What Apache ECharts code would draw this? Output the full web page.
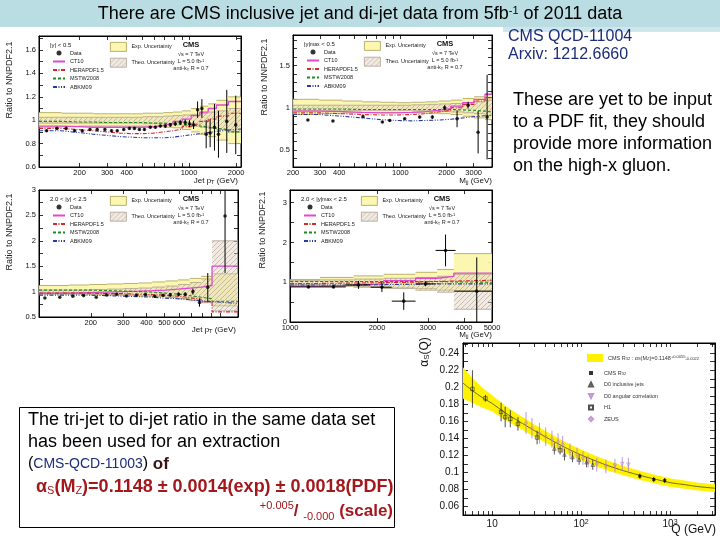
<!DOCTYPE html>
<html>
<head>
<meta charset="utf-8">
<title>CMS jets</title>
<script src="https://cdn.jsdelivr.net/npm/echarts@6/dist/echarts.min.js"></script>
<style>
html,body{margin:0;padding:0;background:#ffffff;}
#chart{width:720px;height:540px;}
</style>
</head>
<body>
<div id="chart"></div>
<script>
// ================= DATA =================
// Panel 1: inclusive jets |y|<0.5, ratio to NNPDF2.1
const p1Pt    = [123,143,164,186,208,233,259,290,320,348,383,416,448,482,519,566,610,656,706,760,817,880,946,1008,1069,1135,1209,1288,1365,1455,1543,1744,1990];
const p1Ratio = [0.91,0.93,0.93,0.91,0.91,0.92,0.92,0.92,0.91,0.91,0.92,0.93,0.93,0.92,0.92,0.94,0.94,0.95,0.95,0.96,0.97,0.98,0.98,0.97,0.96,1.09,1.10,0.88,0.89,0.94,0.88,0.99,0.96];
const p1Err   = [0.01,0.01,0.01,0.01,0.01,0.01,0.01,0.01,0.01,0.01,0.01,0.01,0.01,0.01,0.01,0.01,0.012,0.012,0.015,0.015,0.02,0.02,0.025,0.03,0.035,0.07,0.08,0.12,0.12,0.2,0.2,0.27,0.25];
const p1Edges = [110,153,196,245,300,362,430,507,592,686,790,905,1032,1172,1327,1497,1784,2150];
const p1Ct10  = [0.95,0.945,0.94,0.94,0.94,0.94,0.94,0.945,0.955,0.97,0.99,1.01,1.04,1.07,1.10,1.13,1.16];
const p1Hera  = [0.93,0.92,0.91,0.90,0.89,0.885,0.885,0.89,0.90,0.91,0.925,0.945,0.965,0.99,1.01,1.035,1.06];
const p1Mstw  = [0.99,0.985,0.985,0.98,0.98,0.98,0.98,0.975,0.975,0.97,0.965,0.96,0.95,0.94,0.93,0.92,0.90];
const p1Abkm  = [0.91,0.895,0.88,0.87,0.86,0.855,0.85,0.85,0.85,0.855,0.865,0.875,0.885,0.895,0.905,0.915,0.925];
const p1ExpLo = [0.94,0.945,0.95,0.95,0.95,0.95,0.95,0.95,0.945,0.94,0.935,0.92,0.90,0.88,0.86,0.83,0.80];
const p1ExpHi = [1.065,1.06,1.06,1.055,1.055,1.055,1.055,1.06,1.06,1.065,1.07,1.08,1.10,1.12,1.14,1.17,1.20];
const p1ThLo  = [0.975,0.975,0.975,0.975,0.975,0.975,0.975,0.97,0.97,0.965,0.96,0.955,0.95,0.94,0.93,0.92,0.90];
const p1ThHi  = [1.025,1.025,1.025,1.025,1.025,1.025,1.025,1.03,1.03,1.035,1.04,1.045,1.05,1.06,1.07,1.08,1.10];
const p1XLabels = [200,300,400,1000,2000];
const p1XTicks  = [200,300,400,500,600,700,800,900,1000,2000];
const p1YLabels = [0.6,0.8,1,1.2,1.4,1.6];
const p1YTicks  = [0.6,0.7,0.8,0.9,1,1.1,1.2,1.3,1.4,1.5,1.6,1.7];

// Panel 2: dijet mass |y|max<0.5
const p2M     = [250,364,571,764,853,1067,1336,1616,1944,2340,2760,3208,3670];
const p2Ratio = [0.855,0.844,0.895,0.832,0.85,0.87,0.89,0.89,1.0,0.87,1.03,0.71,0.89];
const p2Err   = [0.01,0.01,0.012,0.012,0.012,0.015,0.015,0.02,0.03,0.1,0.04,0.25,0.5];
const p2Edges = [200,296,419,565,740,944,1181,1455,1770,2132,2546,3019,3558,3950];
const p2Ct10  = [0.96,0.955,0.945,0.94,0.94,0.945,0.955,0.97,0.99,1.02,1.06,1.10,1.16];
const p2Hera  = [0.94,0.93,0.92,0.915,0.915,0.92,0.93,0.95,0.97,1.0,1.04,1.08,1.12];
const p2Mstw  = [0.985,0.985,0.98,0.98,0.98,0.98,0.98,0.98,0.98,0.975,0.97,0.96,0.95];
const p2Abkm  = [0.92,0.90,0.88,0.86,0.85,0.845,0.85,0.855,0.865,0.88,0.895,0.905,0.91];
const p2ExpLo = [0.92,0.93,0.94,0.945,0.945,0.945,0.94,0.935,0.93,0.92,0.90,0.88,0.86];
const p2ExpHi = [1.10,1.09,1.08,1.07,1.065,1.06,1.065,1.07,1.08,1.09,1.11,1.13,1.16];
const p2ThLo  = [0.97,0.97,0.97,0.97,0.97,0.97,0.965,0.96,0.955,0.95,0.94,0.93,0.91];
const p2ThHi  = [1.03,1.03,1.03,1.03,1.03,1.03,1.035,1.04,1.045,1.05,1.06,1.07,1.09];
const p2XLabels = [200,300,400,1000,2000,3000];
const p2XTicks  = [300,400,500,600,700,800,900,1000,2000,3000];
const p2YLabels = [0.5,1,1.5];
const p2YTicks  = [0.4,0.5,0.6,0.7,0.8,0.9,1,1.1,1.2,1.3,1.4,1.5,1.6,1.7,1.8];

// Panel 3: inclusive jets 2.0<|y|<2.5
const p3Pt    = [113,136,160,183,214,244,276,312,353,395,443,492,538,597,648,713,774,858,1064];
const p3Ratio = [0.875,0.888,0.908,0.921,0.888,0.934,0.947,0.914,0.928,0.941,0.908,0.928,0.934,0.947,0.947,1.0,0.783,1.086,2.487];
const p3Err   = [0.01,0.01,0.01,0.01,0.01,0.012,0.012,0.015,0.015,0.02,0.02,0.025,0.03,0.035,0.04,0.06,0.08,0.28,1.12];
const p3Edges = [105,153,196,245,300,362,430,507,592,686,790,905,1250];
const p3Ct10  = [0.97,0.98,0.99,1.0,1.01,1.02,1.03,1.05,1.07,1.09,1.12,1.5];
const p3Hera  = [0.97,0.97,0.96,0.96,0.95,0.94,0.93,0.91,0.88,0.85,0.8,0.6];
const p3Mstw  = [1.03,1.03,1.02,1.01,1.0,0.99,0.97,0.95,0.92,0.89,0.86,0.81];
const p3Abkm  = [0.93,0.93,0.92,0.91,0.9,0.89,0.87,0.86,0.84,0.82,0.8,0.77];
const p3ExpLo = [0.95,0.95,0.94,0.93,0.92,0.91,0.9,0.88,0.86,0.83,0.8,0.72];
const p3ExpHi = [1.12,1.13,1.14,1.15,1.16,1.17,1.19,1.21,1.23,1.26,1.3,1.35];
const p3ThLo  = [0.97,0.97,0.96,0.95,0.94,0.93,0.91,0.89,0.86,0.82,0.78,0.62];
const p3ThHi  = [1.03,1.03,1.04,1.05,1.06,1.07,1.09,1.11,1.14,1.18,1.25,2.0];
const p3XLabels = [200,300,400,500,600];
const p3XTicks  = [200,300,400,500,600,700,800,900,1000];
const p3YLabels = [0.5,1,1.5,2,2.5,3];
const p3YTicks  = [0.5,0.75,1,1.25,1.5,1.75,2,2.25,2.5,2.75,3];

// Panel 4: dijet mass 2.0<|y|max<2.5
const p4M     = [1158,1414,1726,2080,2475,2944,3453,4428];
const p4Ratio = [0.883,0.883,0.933,0.875,0.525,0.958,1.8,0.775];
const p4Err   = [0.03,0.03,0.1,0.12,0.22,0.06,0.4,0.85];
const p4MLo   = [1000,1270,1560,1900,2250,2720,3190,3700];
const p4MHi   = [1270,1560,1900,2250,2720,3190,3740,5000];
const p4Edges = [1000,1270,1660,2110,2720,3230,3690,5000];
const p4Ct10  = [0.9,0.92,0.96,1.04,1.1,1.15,1.23];
const p4Hera  = [0.97,0.98,0.99,1.0,1.02,1.03,1.05];
const p4Mstw  = [1.02,1.02,1.02,1.02,1.02,1.01,1.0];
const p4Abkm  = [0.93,0.93,0.94,0.95,0.96,0.96,0.96];
const p4ExpLo = [0.93,0.9,0.88,0.86,0.84,0.8,0.78];
const p4ExpHi = [1.07,1.12,1.16,1.2,1.25,1.32,1.72];
const p4ThLo  = [0.95,0.92,0.88,0.84,0.8,0.75,0.32];
const p4ThHi  = [1.04,1.06,1.08,1.1,1.12,1.15,1.2];
const p4XLabels = [1000,2000,3000,4000,5000];
const p4XTicks  = [2000,3000,4000];
const p4YLabels = [0,1,2,3];
const p4YTicks  = [0,0.5,1,1.5,2,2.5,3];

// alpha_s(Q) panel
const alphaQ   = [4.7,6,8,10,14,20,30,50,70,100,150,200,300,500,700,1000,1500,2000,3200];
const alphaLo  = [0.187,0.182,0.176,0.172,0.162,0.1528,0.1423,0.1298,0.122,0.1147,0.1075,0.1027,0.097,0.0907,0.0872,0.0835,0.0812,0.0795,0.0775];
const alphaHi  = [0.223,0.210,0.198,0.190,0.178,0.1672,0.1557,0.1422,0.134,0.1263,0.1185,0.1133,0.107,0.1003,0.0964,0.0925,0.0898,0.0875,0.0855];
const alphaMid = [0.205,0.196,0.187,0.181,0.170,0.160,0.149,0.136,0.128,0.1205,0.113,0.108,0.102,0.0955,0.0918,0.088,0.0855,0.0835,0.0815];
const h1Q   = [6,8.4,12.6,14,16,19.5,32,58];
const h1A   = [0.198,0.187,0.171,0.165,0.163,0.157,0.141,0.126];
const h1E   = [0.022,0.004,0.011,0.012,0.01,0.008,0.008,0.005];
const zeusQ = [24,28,34,40,47,55,62,75,90,105,120];
const zeusA = [0.158,0.152,0.146,0.142,0.139,0.136,0.133,0.125,0.121,0.117,0.113];
const zeusE = [0.013,0.012,0.012,0.011,0.01,0.01,0.01,0.009,0.008,0.008,0.007];
const d0jQ  = [50,65,80,95,115,135];
const d0jA  = [0.128,0.121,0.118,0.115,0.112,0.109];
const d0jE  = [0.007,0.007,0.006,0.006,0.006,0.006];
const d0aQ  = [150,190,240,290,340];
const d0aA  = [0.109,0.107,0.108,0.110,0.109];
const d0aE  = [0.008,0.008,0.008,0.008,0.008];
const cmsQ  = [457,656,871];
const cmsA  = [0.0956,0.0917,0.0905];
const cmsE  = [0.003,0.003,0.003];
const aXLabels = [10,100,1000];
const aXTicks  = [5,6,7,8,9,10,20,30,40,50,60,70,80,90,100,200,300,400,500,600,700,800,900,1000,2000,3000];
const aYLabels = [0.06,0.08,0.1,0.12,0.14,0.16,0.18,0.2,0.22,0.24];
const aYTicks  = [0.05,0.06,0.07,0.08,0.09,0.1,0.11,0.12,0.13,0.14,0.15,0.16,0.17,0.18,0.19,0.2,0.21,0.22,0.23,0.24,0.25];

// ================= LAYOUT / STYLE =================
const FONT = '"Liberation Sans", Arial, Helvetica, sans-serif';
const lg = v => Math.log10(v);
const GRIDS = [
  {left:39,  top:36,  width:202, height:131},
  {left:293, top:35,  width:199, height:132},
  {left:39,  top:190, width:199, height:127},
  {left:290, top:190, width:202, height:132},
  {left:463, top:343, width:252, height:172}
];

function hatchCanvas(bg, fg) {
  const c = document.createElement('canvas');
  c.width = 5; c.height = 5;
  const x = c.getContext('2d');
  x.fillStyle = bg; x.fillRect(0,0,5,5);
  x.strokeStyle = fg; x.lineWidth = 0.8;
  x.beginPath(); x.moveTo(-1,6); x.lineTo(6,-1); x.stroke();
  return c;
}
const THEO_IMG = hatchCanvas('rgba(225,210,195,0.45)', 'rgba(150,130,115,0.55)');
const THEO_FILL = {image: THEO_IMG, repeat: 'repeat'};
const EXP_FILL = 'rgba(251,246,170,0.92)';
const EXP_STROKE = '#a9a050';

const option = {
  animation: false,
  backgroundColor: '#ffffff',
  grid: GRIDS.map(g => ({left:g.left, top:g.top, width:g.width, height:g.height, show:true, borderColor:'#000', borderWidth:1, backgroundColor:'transparent'})),
  xAxis: [], yAxis: [], series: [], legend: [], graphic: []
};

const fmtLog = v => String(Math.round(Math.pow(10, v)));
const fmtNum = v => String(+(+v).toFixed(3));

function addAxes(gi, xc, yc) {
  const line = {show:true, onZero:false, lineStyle:{color:'#000', width:1}};
  const tickX = {show:true, inside:true, length:xc.tickLen || 4, customValues:xc.ticks, lineStyle:{color:'#000', width:0.8}};
  const tickY = {show:true, inside:true, length:yc.tickLen || 4, customValues:yc.ticks, lineStyle:{color:'#000', width:0.8}};
  option.xAxis.push({
    type:'value', gridIndex:gi, position:'bottom', min:xc.min, max:xc.max,
    splitLine:{show:false}, axisLine:line, axisTick:tickX,
    axisLabel:{show:true, customValues:xc.labels, formatter:xc.fmt, fontSize:xc.fs, color:'#111', fontFamily:FONT, margin:xc.margin || 2, rich:xc.rich}
  });
  option.xAxis.push({
    type:'value', gridIndex:gi, position:'top', min:xc.min, max:xc.max,
    splitLine:{show:false}, axisLine:line, axisTick:tickX, axisLabel:{show:false}
  });
  option.yAxis.push({
    type:'value', gridIndex:gi, position:'left', min:yc.min, max:yc.max,
    splitLine:{show:false}, axisLine:line, axisTick:tickY,
    axisLabel:{show:true, customValues:yc.labels, formatter:fmtNum, fontSize:yc.fs, color:'#111', fontFamily:FONT, margin:yc.margin || 3}
  });
  option.yAxis.push({
    type:'value', gridIndex:gi, position:'right', min:yc.min, max:yc.max,
    splitLine:{show:false}, axisLine:line, axisTick:tickY, axisLabel:{show:false}
  });
}

function bandSeries(gi, name, edges, lo, hi, fill, stroke, z) {
  const data = lo.map((l, k) => [lg(edges[k]), lg(edges[k+1]), l, hi[k]]);
  return {
    type:'custom', name:name, xAxisIndex:2*gi, yAxisIndex:2*gi, z:z, clip:true, silent:true,
    data:data, encode:{x:[0,1], y:[2,3]},
    renderItem:(p, api) => {
      const a = api.coord([api.value(0), api.value(3)]);
      const b = api.coord([api.value(1), api.value(2)]);
      return {type:'group', children:[
        {type:'rect', shape:{x:a[0], y:a[1], width:b[0]-a[0], height:b[1]-a[1]}, style:{fill:fill}},
        {type:'line', shape:{x1:a[0], y1:a[1], x2:b[0], y2:a[1]}, style:{stroke:stroke, lineWidth:0.8}},
        {type:'line', shape:{x1:a[0], y1:b[1], x2:b[0], y2:b[1]}, style:{stroke:stroke, lineWidth:0.8}}
      ]};
    }
  };
}

function stepSeries(gi, name, edges, vals, color, type, width) {
  const data = edges.map((e, k) => [lg(e), vals[Math.min(k, vals.length-1)]]);
  return {
    type:'line', name:name, xAxisIndex:2*gi, yAxisIndex:2*gi, step:'end', symbol:'none', z:3, silent:true,
    data:data, lineStyle:{color:color, type:type, width:width}, itemStyle:{color:color}
  };
}

function errSeries(gi, xs, ys, es, color, xlo, xhi, lw, z) {
  const data = xs.map((x, k) => [lg(x), ys[k], es[k], lg(xlo ? xlo[k] : x), lg(xhi ? xhi[k] : x)]);
  return {
    type:'custom', xAxisIndex:2*gi, yAxisIndex:2*gi, clip:true, silent:true, z:z || 4,
    data:data, encode:{x:0, y:1},
    renderItem:(p, api) => {
      const x = api.value(0), y = api.value(1), e = api.value(2);
      const t = api.coord([x, y + e]), b = api.coord([x, y - e]);
      const l = api.coord([api.value(3), y]), r = api.coord([api.value(4), y]);
      const ch = [{type:'line', shape:{x1:t[0], y1:t[1], x2:b[0], y2:b[1]}, style:{stroke:color, lineWidth:lw || 1}}];
      if (r[0] - l[0] > 0.5) ch.push({type:'line', shape:{x1:l[0], y1:l[1], x2:r[0], y2:r[1]}, style:{stroke:color, lineWidth:lw || 1}});
      return {type:'group', children:ch};
    }
  };
}

const PANELS = [
  {x:{min:lg(110), max:lg(2150), labels:p1XLabels, ticks:p1XTicks},
   y:{min:0.6, max:1.72, labels:p1YLabels, ticks:p1YTicks},
   pt:p1Pt, r:p1Ratio, e:p1Err, edges:p1Edges, ct:p1Ct10, he:p1Hera, ms:p1Mstw, ab:p1Abkm,
   eLo:p1ExpLo, eHi:p1ExpHi, tLo:p1ThLo, tHi:p1ThHi, region:'|y| < 0.5', yName:[10,80],
   xName:'Jet p{s|T} (GeV)', xNamePos:[238,181]},
  {x:{min:lg(200), max:lg(3950), labels:p2XLabels, ticks:p2XTicks},
   y:{min:0.3, max:1.86, labels:p2YLabels, ticks:p2YTicks},
   pt:p2M, r:p2Ratio, e:p2Err, edges:p2Edges, ct:p2Ct10, he:p2Hera, ms:p2Mstw, ab:p2Abkm,
   eLo:p2ExpLo, eHi:p2ExpHi, tLo:p2ThLo, tHi:p2ThHi, region:'|y|{s|max} < 0.5', yName:[265,77],
   xName:'M{s|jj} (GeV)', xNamePos:[492,181]},
  {x:{min:lg(105), max:lg(1250), labels:p3XLabels, ticks:p3XTicks},
   y:{min:0.5, max:3.0, labels:p3YLabels, ticks:p3YTicks},
   pt:p3Pt, r:p3Ratio, e:p3Err, edges:p3Edges, ct:p3Ct10, he:p3Hera, ms:p3Mstw, ab:p3Abkm,
   eLo:p3ExpLo, eHi:p3ExpHi, tLo:p3ThLo, tHi:p3ThHi, region:'2.0 < |y| < 2.5', yName:[10,232],
   xName:'Jet p{s|T} (GeV)', xNamePos:[236,330]},
  {x:{min:lg(1000), max:lg(5000), labels:p4XLabels, ticks:p4XTicks},
   y:{min:0, max:3.32, labels:p4YLabels, ticks:p4YTicks},
   pt:p4M, r:p4Ratio, e:p4Err, xlo:p4MLo, xhi:p4MHi, edges:p4Edges, ct:p4Ct10, he:p4Hera, ms:p4Mstw, ab:p4Abkm,
   eLo:p4ExpLo, eHi:p4ExpHi, tLo:p4ThLo, tHi:p4ThHi, region:'2.0 < |y|{s|max} < 2.5', yName:[263,230],
   xName:'M{s|jj} (GeV)', xNamePos:[492,335]}
];

const subRich = {s:{fontSize:5, fontFamily:FONT, fill:'#111', verticalAlign:'bottom'}};
const G = option.graphic;
const noSym = {opacity:0};

PANELS.forEach((P, gi) => {
  const g = GRIDS[gi];
  addAxes(gi,
    Object.assign({}, P.x, {labels:P.x.labels.map(lg), ticks:P.x.ticks.map(lg), fmt:fmtLog, fs:7.5}),
    Object.assign({}, P.y, {fs:7.5}));
  option.series.push(bandSeries(gi, 'Exp. Uncertainty', P.edges, P.eLo, P.eHi, EXP_FILL, EXP_STROKE, 1));
  option.series.push(bandSeries(gi, 'Theo. Uncertainty', P.edges, P.tLo, P.tHi, THEO_FILL, '#b0a090', 2));
  option.series.push(stepSeries(gi, 'CT10', P.edges, P.ct, '#e048d0', 'solid', 1.3));
  option.series.push(stepSeries(gi, 'HERAPDF1.5', P.edges, P.he, '#d42a2a', [4,1.5,1,1.5], 1.1));
  option.series.push(stepSeries(gi, 'MSTW2008', P.edges, P.ms, '#1f8a1f', [3,2], 1.1));
  option.series.push(stepSeries(gi, 'ABKM09', P.edges, P.ab, '#2a3aa0', [4,1.5,1,1.5,1,1.5], 1.1));
  option.series.push(errSeries(gi, P.pt, P.r, P.e, '#000', P.xlo, P.xhi, 1, 4));
  option.series.push({
    type:'scatter', name:'Data', xAxisIndex:2*gi, yAxisIndex:2*gi, z:5, silent:true,
    symbol:'circle', symbolSize:3.6, itemStyle:{color:'#000'},
    data:P.pt.map((x, k) => [lg(x), P.r[k]])
  });
  // legends
  option.legend.push({
    left:g.left + 13, top:g.top + 14, orient:'vertical', itemWidth:12, itemHeight:5, itemGap:2.5,
    selectedMode:false, padding:0,
    textStyle:{fontSize:5.5, color:'#222', fontFamily:FONT},
    data:['Data',
      {name:'CT10', itemStyle:noSym}, {name:'HERAPDF1.5', itemStyle:noSym},
      {name:'MSTW2008', itemStyle:noSym}, {name:'ABKM09', itemStyle:noSym}]
  });
  option.legend.push({
    left:g.left + 71, top:g.top + 6, orient:'vertical', itemWidth:16, itemHeight:9, itemGap:6,
    selectedMode:false, padding:0,
    textStyle:{fontSize:5.5, color:'#222', fontFamily:FONT},
    data:[
      {name:'Exp. Uncertainty', icon:'rect', itemStyle:{color:EXP_FILL, borderColor:EXP_STROKE, borderWidth:0.8}},
      {name:'Theo. Uncertainty', icon:'rect', itemStyle:{color:THEO_FILL, borderColor:'#b0a090', borderWidth:0.8}}
    ]
  });
  // in-panel texts
  G.push({type:'text', x:g.left + 11, y:g.top + 9, z:10,
    style:{text:P.region, fontSize:6, fontFamily:FONT, fill:'#111', align:'left', verticalAlign:'middle', rich:subRich}});
  const cx = g.left + 152;
  G.push({type:'text', x:cx, y:g.top + 9, z:10,
    style:{text:'CMS', fontSize:7.5, fontWeight:'bold', fontFamily:FONT, fill:'#111', align:'center', verticalAlign:'middle'}});
  G.push({type:'text', x:cx, y:g.top + 18.5, z:10,
    style:{text:'\u221As = 7 TeV', fontSize:5.5, fontFamily:FONT, fill:'#222', align:'center', verticalAlign:'middle'}});
  G.push({type:'text', x:cx, y:g.top + 25.5, z:10,
    style:{text:'L = 5.0 fb{u|-1}', fontSize:5.5, fontFamily:FONT, fill:'#222', align:'center', verticalAlign:'middle',
      rich:{u:{fontSize:4, fontFamily:FONT, fill:'#222', verticalAlign:'top'}}}});
  G.push({type:'text', x:cx, y:g.top + 32.5, z:10,
    style:{text:'anti-k{s|T} R = 0.7', fontSize:5.5, fontFamily:FONT, fill:'#222', align:'center', verticalAlign:'middle',
      rich:{s:{fontSize:4, fontFamily:FONT, fill:'#222', verticalAlign:'bottom'}}}});
  G.push({type:'text', x:P.yName[0], y:P.yName[1], rotation:Math.PI/2, z:10,
    style:{text:'Ratio to NNPDF2.1', fontSize:9, fontFamily:FONT, fill:'#222', align:'center', verticalAlign:'middle'}});
  G.push({type:'text', x:P.xNamePos[0], y:P.xNamePos[1], z:10,
    style:{text:P.xName, fontSize:8, fontFamily:FONT, fill:'#111', align:'right', verticalAlign:'middle',
      rich:{s:{fontSize:5.5, fontFamily:FONT, fill:'#111', verticalAlign:'bottom'}}}});
});

// ---- alpha_s panel (grid 4) ----
addAxes(4,
  {min:lg(4.7), max:lg(3200), labels:aXLabels.map(lg), ticks:aXTicks.map(lg),
   fmt:v => { const n = Math.round(v); return n === 1 ? '10' : '10{p|' + n + '}'; },
   rich:{p:{fontSize:7, fontFamily:FONT, color:'#111', verticalAlign:'top', lineHeight:10}},
   fs:10, margin:4, tickLen:4},
  {min:0.05, max:0.252, labels:aYLabels, ticks:aYTicks, fs:10, margin:4, tickLen:5});

const bandQuads = alphaQ.slice(0, -1).map((q, k) =>
  [lg(q), lg(alphaQ[k+1]), alphaLo[k], alphaHi[k], alphaLo[k+1], alphaHi[k+1]]);
option.series.push({
  type:'custom', name:'CMS R32 fit', xAxisIndex:8, yAxisIndex:8, z:1, clip:true, silent:true,
  data:bandQuads, encode:{x:[0,1], y:[2,3]}, itemStyle:{color:'#fff200'},
  renderItem:(p, api) => {
    const x0 = api.value(0), x1 = api.value(1);
    const pts = [api.coord([x0, api.value(3)]), api.coord([x1, api.value(5)]), api.coord([x1, api.value(4)]), api.coord([x0, api.value(2)])];
    return {type:'polygon', shape:{points:pts}, style:{fill:'#fff200', stroke:'#fff200', lineWidth:0.8}};
  }
});
option.series.push({
  type:'line', name:'alphaMid', xAxisIndex:8, yAxisIndex:8, symbol:'none', smooth:0.3, silent:true, z:2,
  lineStyle:{color:'#333', width:0.7}, data:alphaQ.map((q, k) => [lg(q), alphaMid[k]])
});
const PURPLE = '#b27cc8';
const SYM_SQ = 'path://M0,0L1,0L1,1L0,1Z';
const SYM_UP = 'path://M0.5,0L1,1L0,1Z';
const SYM_DN = 'path://M0,0L1,0L0.5,1Z';
const SYM_DM = 'path://M0.5,0L1,0.5L0.5,1L0,0.5Z';
[
  ['ZEUS', zeusQ, zeusA, zeusE, PURPLE, SYM_DM, 3.5, false],
  ['D0 angular correlation', d0aQ, d0aA, d0aE, PURPLE, SYM_DN, 3.5, false],
  ['D0 inclusive jets', d0jQ, d0jA, d0jE, '#333', SYM_UP, 3.5, false],
  ['H1', h1Q, h1A, h1E, '#222', SYM_SQ, 3.5, false],
  ['CMS R32', cmsQ, cmsA, cmsE, '#000', SYM_SQ, 3, true]
].forEach(d => {
  option.series.push(errSeries(4, d[1], d[2], d[3], d[4], null, null, 0.8, 3));
  option.series.push({
    type:'scatter', name:d[0], xAxisIndex:8, yAxisIndex:8, z:4, silent:true,
    symbol:d[5], symbolSize:d[6], symbolKeepAspect:true,
    itemStyle: d[7] ? {color:d[4]} : {color:'rgba(255,255,255,0)', borderColor:d[4], borderWidth:0.7},
    data:d[1].map((q, k) => [lg(q), d[2][k]])
  });
});
option.legend.push({
  left:587, top:354, orient:'vertical', itemWidth:16, itemHeight:8, selectedMode:false, padding:0,
  textStyle:{fontSize:5.5, color:'#333', fontFamily:FONT,
    rich:{s:{fontSize:4, color:'#333', fontFamily:FONT, verticalAlign:'bottom'}, u:{fontSize:4, color:'#333', fontFamily:FONT, verticalAlign:'top'}}},
  formatter:() => 'CMS R{s|32} : \u03b1{s|S}(M{s|Z})=0.1148{u|+0.0055}{s|-0.0022}',
  data:[{name:'CMS R32 fit', icon:'rect', itemStyle:{color:'#fff200', borderWidth:0}}]
});
option.legend.push({
  left:588, top:370, orient:'vertical', itemWidth:16, itemHeight:4, itemGap:5.5, selectedMode:false, padding:0,
  textStyle:{fontSize:5.5, color:'#333', fontFamily:FONT, rich:{s:{fontSize:4, color:'#333', fontFamily:FONT, verticalAlign:'bottom'}}},
  formatter:n => n === 'CMS R32' ? 'CMS R{s|32}' : n,
  data:['CMS R32','D0 inclusive jets','D0 angular correlation','H1','ZEUS']
});
G.push({type:'text', x:425, y:352, rotation:Math.PI/2, z:10,
  style:{text:'\u03b1{s|S}(Q)', fontSize:12, fontFamily:FONT, fill:'#111', align:'center', verticalAlign:'middle',
    rich:{s:{fontSize:8, fontFamily:FONT, fill:'#111', verticalAlign:'bottom'}}}});
G.push({type:'text', x:716, y:530, z:10,
  style:{text:'Q (GeV)', fontSize:12, fontFamily:FONT, fill:'#111', align:'right', verticalAlign:'middle'}});

// ---- slide decorations & texts ----
G.unshift({type:'rect', shape:{x:503, y:27, width:217, height:5}, style:{fill:'#cfe7eb'}, z:-1});
G.unshift({type:'rect', shape:{x:0, y:0, width:720, height:27}, style:{fill:'#b9dde3'}, z:-1});
G.push({type:'text', x:360, y:14, z:10,
  style:{text:'There are CMS inclusive jet and di-jet data from 5fb{u|-1} of 2011 data', fontSize:18, fontFamily:FONT, fill:'#000',
    align:'center', verticalAlign:'middle', rich:{u:{fontSize:11, fontFamily:FONT, fill:'#000', verticalAlign:'top'}}}});
G.push({type:'text', x:508, y:37, z:10,
  style:{text:'CMS QCD-11004', fontSize:16, fontFamily:FONT, fill:'#1c2b7a', align:'left', verticalAlign:'middle'}});
G.push({type:'text', x:508, y:55, z:10,
  style:{text:'Arxiv: 1212.6660', fontSize:16, fontFamily:FONT, fill:'#1c2b7a', align:'left', verticalAlign:'middle'}});
['These are yet to be input','to a PDF fit, they should','provide more information','on the high-x gluon.'].forEach((t, k) => {
  G.push({type:'text', x:513, y:100 + 22*k, z:10,
    style:{text:t, fontSize:18, fontFamily:FONT, fill:'#000', align:'left', verticalAlign:'middle'}});
});
G.push({type:'rect', shape:{x:19.5, y:407.5, width:375, height:120}, style:{fill:'none', stroke:'#000', lineWidth:1}, z:10});
G.push({type:'text', x:28, y:420, z:10,
  style:{text:'The tri-jet to di-jet ratio in the same data set', fontSize:18, fontFamily:FONT, fill:'#000', align:'left', verticalAlign:'middle'}});
G.push({type:'text', x:28, y:442, z:10,
  style:{text:'has been used for an extraction', fontSize:18, fontFamily:FONT, fill:'#000', align:'left', verticalAlign:'middle'}});
G.push({type:'text', x:28, y:464, z:10,
  style:{text:'{p|(}{c|CMS-QCD-11003}{p|)}{o| of}', fontSize:18, fontFamily:FONT, fill:'#000', align:'left', verticalAlign:'middle',
    rich:{p:{fontSize:16, fontFamily:FONT, fill:'#000'}, c:{fontSize:14, fontFamily:FONT, fill:'#1c2b7a'}, o:{fontSize:17, fontWeight:'bold', fontFamily:FONT, fill:'#3a1212'}}}});
const RED = '#a3181c';
G.push({type:'text', x:36, y:487, z:10,
  style:{text:'{r|\u03b1}{s|S}{r|(M}{s|Z}{r|)=0.1148 \u00b1 0.0014(exp) \u00b1 0.0018(PDF)}', fontSize:18, fontFamily:FONT, fill:RED, align:'left', verticalAlign:'middle',
    rich:{r:{fontSize:18, fontWeight:'bold', fontFamily:FONT, fill:RED}, s:{fontSize:11, fontFamily:FONT, fill:RED, verticalAlign:'bottom'}}}});
G.push({type:'text', x:393, y:511, z:10,
  style:{text:'{u|+0.005}{r|/ }{d|-0.000}{r| (scale)}', fontSize:17, fontFamily:FONT, fill:RED, align:'right', verticalAlign:'middle',
    rich:{r:{fontSize:17, fontWeight:'bold', fontFamily:FONT, fill:RED}, u:{fontSize:11, fontFamily:FONT, fill:RED, verticalAlign:'top', lineHeight:22},
          d:{fontSize:11, fontFamily:FONT, fill:RED, verticalAlign:'bottom', lineHeight:22}}}});

const chart = echarts.init(document.getElementById('chart'), null, {renderer:'canvas'});
chart.setOption(option);
</script>
</body>
</html>
